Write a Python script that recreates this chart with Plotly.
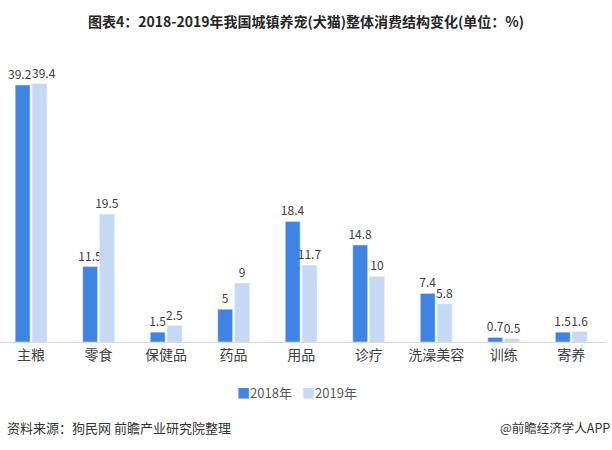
import plotly.graph_objects as go

categories = ["主粮", "零食", "保健品", "药品", "用品", "诊疗", "洗澡美容", "训练", "寄养"]
v2018 = [39.2, 11.5, 1.5, 5, 18.4, 14.8, 7.4, 0.7, 1.5]
v2019 = [39.4, 19.5, 2.5, 9, 11.7, 10, 5.8, 0.5, 1.6]
series_names = ["2018年", "2019年"]
colors = ["#3f84e3", "#c5d9f4"]

FONT = "Noto Sans CJK SC, Microsoft YaHei, sans-serif"
LBL = dict(size=12, color="#404040", family=FONT)

# labels of the first (crowded) group are placed as annotations so they don't collide
def bar_text(vals):
    return ["" if i == 0 else f"{v:g}" for i, v in enumerate(vals)]

fig = go.Figure()
for name, vals, col in zip(series_names, [v2018, v2019], colors):
    fig.add_trace(go.Bar(x=categories, y=vals, name=name, marker_color=col,
                         text=bar_text(vals), textposition="outside", cliponaxis=False,
                         constraintext="none", textfont=LBL))

fig.update_layout(
    width=612, height=450,
    margin=dict(l=0, r=5, t=47, b=108),
    paper_bgcolor="white", plot_bgcolor="white",
    barmode="group", bargap=0.5, bargroupgap=0.12,
    font=dict(family=FONT, color="#404040"),
    showlegend=False,
    title=dict(text="<b>图表4：2018-2019年我国城镇养宠(犬猫)整体消费结构变化(单位：%)</b>",
               x=0.5, xanchor="center", y=0.951, yanchor="middle",
               font=dict(size=14, color="#262626", family=FONT)),
)
fig.update_xaxes(range=[-0.46, 8.53], showline=True, linecolor="#d9d9d9", linewidth=1,
                 ticks="", tickfont=dict(size=14, color="#404040"), showgrid=False)
fig.update_yaxes(range=[0, 45], visible=False, showgrid=False)

# first-group labels
fig.add_annotation(x=categories[0], y=v2018[0], text=f"{v2018[0]:g}", showarrow=False,
                   xref="x", yref="y", yanchor="bottom", xshift=-11, yshift=1, font=LBL)
fig.add_annotation(x=categories[0], y=v2019[0], text=f"{v2019[0]:g}", showarrow=False,
                   xref="x", yref="y", yanchor="bottom", xshift=13, yshift=1, font=LBL)

# legend as text
for i, (name, col) in enumerate(zip(series_names, colors)):
    fig.add_annotation(text=f"<span style='color:{col}'>■</span>{name}", xref="paper", yref="paper",
                       x=0.387 + i * 0.107, xanchor="left", y=-0.17, yanchor="middle",
                       showarrow=False, font=dict(size=13, color="#595959"))

fig.add_annotation(text="资料来源：狗民网 前瞻产业研究院整理", xref="paper", yref="paper",
                   x=0.0, xanchor="left", y=-0.29, yanchor="middle", showarrow=False,
                   font=dict(size=13, color="#333333"), xshift=5)
fig.add_annotation(text="@前瞻经济学人APP", xref="paper", yref="paper",
                   x=1.0, xanchor="right", y=-0.29, yanchor="middle", showarrow=False,
                   font=dict(size=12.5, color="#333333"), xshift=5)

fig.write_html("out.html", config={"displayModeBar": False},
               post_script="document.body.style.margin='0';")
